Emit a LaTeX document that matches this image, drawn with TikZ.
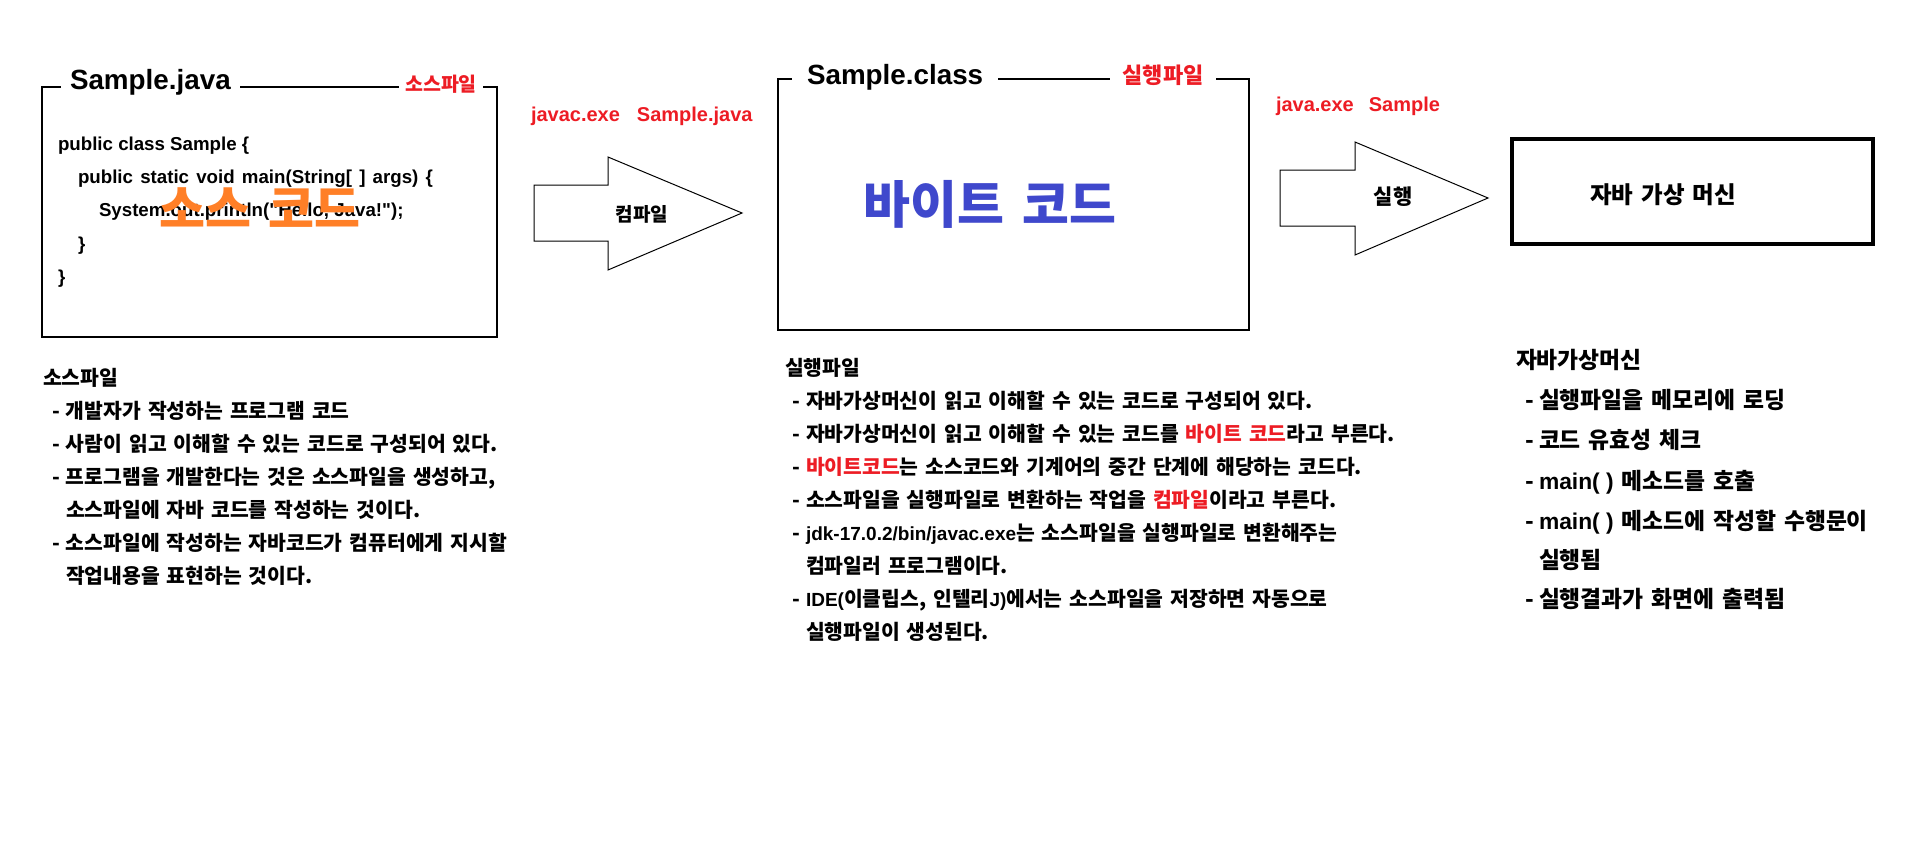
\documentclass[tikz,border=0pt]{standalone}
\usepackage{fontspec}
\setmainfont{Noto Sans CJK KR}[WordSpace=1.5]
\newfontfamily\en{Liberation Sans}
\definecolor{pred}{HTML}{ED1C24}
\definecolor{porange}{HTML}{FF7F27}
\definecolor{pindigo}{HTML}{3F48CC}
\newcommand\fsz[1]{\fontsize{#1}{#1}\selectfont}
\newcommand\dashitem{\makebox[14pt][l]{-}}
\begin{document}
\begin{tikzpicture}[x=1pt,y=-1pt,
  every node/.style={inner sep=0pt, outer sep=0pt},
  boxline/.style={line width=1.3pt},
  arrowshape/.style={line width=1pt, fill=white},
  ttl/.style={font=\en\bfseries\fsz{27.8}, anchor=base west, fill=white, inner ysep=2pt},
  redtag/.style={text=pred, fill=white, inner ysep=2pt},
  codeline/.style={font=\en\bfseries\fsz{18.7}, anchor=base west},
  ko/.style={font=\bfseries\fsz{20.4}, anchor=base west},
  kor/.style={font=\bfseries\fsz{22.8}, anchor=base west},
  cmd/.style={font=\en\bfseries\fsz{20}, text=pred, anchor=base west},
  arrlabel/.style={font=\bfseries\fsz{19}}]
\fill[white] (0,0) rectangle (1906,856);
\useasboundingbox (0,0) rectangle (1906,856);

% ---- source file box
\draw[boxline] (42,87) rectangle (497,337);
\node[ttl, inner xsep=9pt] (tj) at (61,90) {Sample.java};
\node[redtag, inner xsep=6pt, font=\bfseries\fsz{19.5}] (rj) at (441,84) {소스파일};
\node[codeline] (c1) at (58,150) {public class Sample \{};
\node[codeline] (c2) at (78,183) {\spaceskip=7.2pt public static void main(String[ ] args) \{};
\node[codeline] (c3) at (99,216.5) {System.out.println("Hello, Java!");};
\node[codeline] (c4) at (78,250) {\}};
\node[codeline] (c5) at (58,283) {\}};
\node[font=\bfseries\fsz{50}, text=porange] (src) at (260,208) {소스 코드};

% ---- compile arrow
\node[cmd] (cmd1) at (531,122) {javac.exe\hspace{17pt}Sample.java};
\draw[arrowshape] (534,185) -- (608,185) -- (608,157) -- (742,213) -- (608,270) -- (608,241) -- (534,241) -- cycle;
\node[arrlabel] (a1) at (642,214) {컴파일};

% ---- class file box
\draw[boxline] (778,79) rectangle (1249,330);
\node[ttl, inner xsep=15pt] (tc) at (792,85) {Sample.class};
\node[redtag, inner xsep=13pt, font=\bfseries\fsz{22}] (rc) at (1163,75) {실행파일};
\node[font=\bfseries\fsz{51}, text=pindigo] (byte) at (990,204) {바이트 코드};

% ---- run arrow
\node[cmd] (cmd2) at (1276,112) {java.exe\hspace{15pt}Sample};
\draw[arrowshape] (1280,170) -- (1355,170) -- (1355,142) -- (1488,198) -- (1355,255) -- (1355,226) -- (1280,226) -- cycle;
\node[arrlabel, font=\bfseries\fsz{21}] (a2) at (1393,197) {실행};

% ---- JVM box
\draw[line width=3.5pt] (1512,139) rectangle (1873,244);
\node[font=\bfseries\fsz{23.5}] (jvm) at (1663,195) {자바 가상 머신};

% ---- left column
\node[ko] (l0) at (43,385) {소스파일};
\node[ko] (l1) at (52,418) {\dashitem 개발자가 작성하는 프로그램 코드};
\node[ko] (l2) at (52,451) {\dashitem 사람이 읽고 이해할 수 있는 코드로 구성되어 있다.};
\node[ko] (l3) at (52,484) {\dashitem 프로그램을 개발한다는 것은 소스파일을 생성하고,};
\node[ko] (l4) at (66,517) {소스파일에 자바 코드를 작성하는 것이다.};
\node[ko] (l5) at (52,550) {\dashitem 소스파일에 작성하는 자바코드가 컴퓨터에게 지시할};
\node[ko] (l6) at (66,583) {작업내용을 표현하는 것이다.};

% ---- middle column
\node[ko] (m0) at (785,375) {실행파일};
\node[ko] (m1) at (792,408) {\dashitem 자바가상머신이 읽고 이해할 수 있는 코드로 구성되어 있다.};
\node[ko] (m2) at (792,441) {\dashitem 자바가상머신이 읽고 이해할 수 있는 코드를 \textcolor{pred}{바이트 코드}라고 부른다.};
\node[ko] (m3) at (792,474) {\dashitem \textcolor{pred}{바이트코드}는 소스코드와 기계어의 중간 단계에 해당하는 코드다.};
\node[ko] (m4) at (792,507) {\dashitem 소스파일을 실행파일로 변환하는 작업을 \textcolor{pred}{컴파일}이라고 부른다.};
\node[ko] (m5) at (792,540) {\dashitem {\en\fsz{19}jdk-17.0.2/bin/javac.exe}는 소스파일을 실행파일로 변환해주는};
\node[ko] (m6) at (806,573) {컴파일러 프로그램이다.};
\node[ko] (m7) at (792,606) {\dashitem {\en\fsz{19}IDE(}이클립스, 인텔리{\en\fsz{19}J)}에서는 소스파일을 저장하면 자동으로};
\node[ko] (m8) at (806,639) {실행파일이 생성된다.};

% ---- right column
\node[kor] (r0) at (1516,368) {자바가상머신};
\node[kor] (r1) at (1525,408) {\dashitem 실행파일을 메모리에 로딩};
\node[kor] (r2) at (1525,448) {\dashitem 코드 유효성 체크};
\node[kor] (r3) at (1525,489) {\dashitem {\en main( )} 메소드를 호출};
\node[kor] (r4) at (1525,529) {\dashitem {\en main( )} 메소드에 작성할 수행문이};
\node[kor] (r5) at (1539,568) {실행됨};
\node[kor] (r6) at (1525,607) {\dashitem 실행결과가 화면에 출력됨};
\end{tikzpicture}
\end{document}
